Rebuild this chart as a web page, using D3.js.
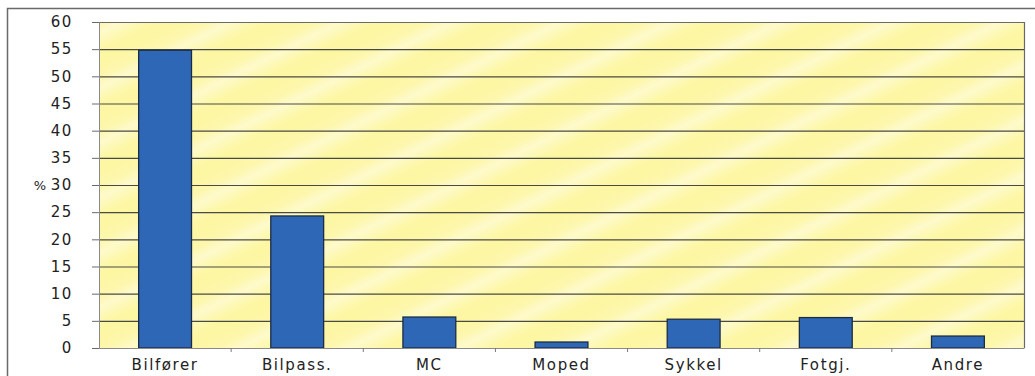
<!DOCTYPE html>
<html>
<head>
<meta charset="utf-8">
<script src="https://cdn.jsdelivr.net/npm/d3@7"></script>
<style>
  html, body { margin: 0; padding: 0; background: #ffffff; }
  svg { display: block; }
  text { font-family: "DejaVu Sans", Verdana, sans-serif; fill: #222222; }
</style>
</head>
<body>
<svg id="chart" width="1035" height="376"></svg>
<script>
// Share of road-traffic casualties by road-user group (%)
const categories = ["Bilfører", "Bilpass.", "MC", "Moped", "Sykkel", "Fotgj.", "Andre"];
const values = [54.8, 24.3, 5.7, 1.1, 5.3, 5.6, 2.2];
const yTicks = [0, 5, 10, 15, 20, 25, 30, 35, 40, 45, 50, 55, 60];
const yLabel = "%";

const svg = d3.select("#chart");
const W = 1035, H = 376;
const plot = { left: 99, top: 22, right: 1024, bottom: 348 };
const labelFont = { size: 15, spacing: 1.6 };

// outer chart frame
svg.append("rect")
  .attr("x", 7.5).attr("y", 8.5)
  .attr("width", W + 10).attr("height", H + 10)
  .attr("fill", "none").attr("stroke", "#6a6a6a").attr("stroke-width", 1.5);

const x = d3.scaleBand().domain(categories).range([plot.left, plot.right]).paddingInner(0.6).paddingOuter(0.3);
const xCat = d3.scaleBand().domain(categories).range([plot.left, plot.right]);
const y = d3.scaleLinear().domain([0, 60]).range([plot.bottom, plot.top]);

// plot-area fill: pale yellow with soft light streaks running up to the right
const defs = svg.append("defs");
const grad = defs.append("linearGradient")
  .attr("id", "bg").attr("gradientUnits", "userSpaceOnUse")
  .attr("x1", 0).attr("y1", 0)
  .attr("x2", 22).attr("y2", 44)
  .attr("spreadMethod", "repeat");
[[0, "#fdf6a2"], [0.3, "#fdf7ae"], [0.5, "#fefacb"], [0.62, "#fdf9bc"], [0.8, "#fdf7a6"], [1, "#fdf6a2"]]
  .forEach(([o, c]) => grad.append("stop").attr("offset", o).attr("stop-color", c));

svg.append("rect")
  .attr("x", plot.left).attr("y", plot.top)
  .attr("width", plot.right - plot.left).attr("height", plot.bottom - plot.top)
  .attr("fill", "url(#bg)");

// horizontal gridlines
svg.append("g")
  .selectAll("line")
  .data(yTicks.filter(d => d > 0))
  .join("line")
  .attr("x1", plot.left).attr("x2", plot.right)
  .attr("y1", d => y(d) + 0.5).attr("y2", d => y(d) + 0.5)
  .attr("stroke", "#4a4a44").attr("stroke-width", 1.1);

// plot border (top and right)
svg.append("path")
  .attr("d", `M${plot.left},${plot.top + 0.5}H${plot.right + 0.5}V${plot.bottom}`)
  .attr("fill", "none").attr("stroke", "#6a6a6a").attr("stroke-width", 1.2);

// bars
svg.append("g")
  .selectAll("rect")
  .data(values)
  .join("rect")
  .attr("x", (d, i) => x(categories[i]))
  .attr("y", d => y(d))
  .attr("width", x.bandwidth())
  .attr("height", d => y(0) - y(d))
  .attr("fill", "#2d67b6")
  .attr("stroke", "#1c2c44").attr("stroke-width", 1.3);

// y axis
const yAxis = svg.append("g")
  .attr("transform", `translate(${plot.left},0)`)
  .call(d3.axisLeft(y).tickValues(yTicks).tickSize(7).tickPadding(19));
yAxis.select(".domain").attr("stroke", "#8a8a8a");
yAxis.selectAll(".tick line").attr("stroke", "#6a6a6a");
yAxis.selectAll(".tick text")
  .attr("font-size", labelFont.size)
  .attr("letter-spacing", labelFont.spacing)
  .attr("font-family", "DejaVu Sans, Verdana, sans-serif").attr("fill", "#222222");

// x axis with ticks at category boundaries
const xAxis = svg.append("g")
  .attr("transform", `translate(0,${plot.bottom})`)
  .call(d3.axisBottom(x).tickSize(0).tickPadding(11));
xAxis.select(".domain").attr("stroke", "#8a8a8a");
xAxis.selectAll(".tick text")
  .attr("font-size", labelFont.size)
  .attr("letter-spacing", labelFont.spacing)
  .attr("font-family", "DejaVu Sans, Verdana, sans-serif").attr("fill", "#222222");
xAxis.selectAll(".boundary")
  .data(categories.slice(1))
  .join("line")
  .attr("class", "boundary")
  .attr("x1", d => xCat(d)).attr("x2", d => xCat(d))
  .attr("y1", 0).attr("y2", 4)
  .attr("stroke", "#7a7a7a");

// axis title
svg.append("text")
  .attr("x", 40).attr("y", y(30))
  .attr("dy", "0.35em")
  .attr("text-anchor", "middle")
  .attr("font-size", 13)
  .text(yLabel);
</script>
</body>
</html>
